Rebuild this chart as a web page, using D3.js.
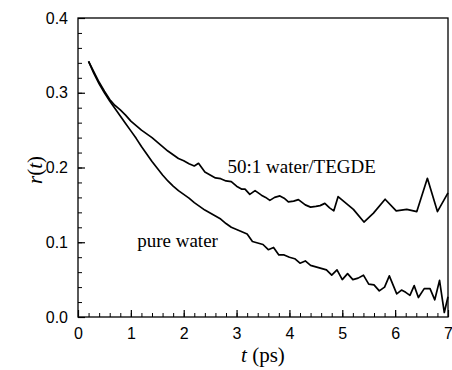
<!DOCTYPE html>
<html><head><meta charset="utf-8">
<script src="https://cdn.jsdelivr.net/npm/d3@7"></script>
<style>body{margin:0;background:#fff}svg{display:block}</style>
</head><body><svg id="c" width="452" height="370"></svg>
<script>
const pureT = [0.2,0.3,0.4,0.5,0.6,0.7,0.8,0.9,1.0,1.1,1.2,1.3,1.4,1.5,1.6,1.7,1.8,1.9,2.0,2.1,2.2,2.3,2.4,2.5,2.6,2.7,2.8,2.9,3.0,3.1,3.2,3.3,3.4,3.5,3.6,3.7,3.8,3.9,4.0,4.1,4.2,4.3,4.4,4.5,4.6,4.7,4.8,4.9,5.0,5.1,5.2,5.3,5.4,5.5,5.6,5.7,5.8,5.89,6.03,6.12,6.2,6.28,6.36,6.44,6.55,6.66,6.75,6.84,6.93,7.0];
const pureR = [0.342,0.326,0.312,0.300,0.289,0.279,0.269,0.259,0.249,0.239,0.228,0.218,0.208,0.199,0.190,0.182,0.175,0.169,0.164,0.159,0.153,0.148,0.143,0.139,0.135,0.131,0.125,0.120,0.117,0.114,0.111,0.101,0.099,0.097,0.090,0.093,0.083,0.083,0.080,0.078,0.072,0.075,0.069,0.067,0.065,0.063,0.056,0.063,0.050,0.058,0.050,0.052,0.056,0.044,0.043,0.035,0.040,0.055,0.031,0.036,0.033,0.029,0.042,0.026,0.038,0.038,0.023,0.049,0.006,0.027];
const tegdeT = [0.2,0.3,0.4,0.5,0.6,0.7,0.8,0.9,1.0,1.1,1.2,1.3,1.4,1.5,1.6,1.7,1.8,1.9,2.0,2.1,2.2,2.28,2.4,2.5,2.6,2.7,2.8,2.9,3.0,3.1,3.16,3.25,3.35,3.47,3.55,3.63,3.72,3.82,3.9,3.98,4.08,4.17,4.3,4.4,4.5,4.58,4.67,4.76,4.84,4.92,5.21,5.41,5.59,5.81,6.02,6.22,6.41,6.61,6.8,7.0];
const tegdeR = [0.342,0.328,0.314,0.302,0.291,0.283,0.277,0.270,0.262,0.256,0.250,0.245,0.240,0.234,0.228,0.222,0.217,0.212,0.209,0.205,0.202,0.2056,0.194,0.190,0.186,0.185,0.182,0.181,0.175,0.171,0.171,0.164,0.169,0.163,0.160,0.156,0.160,0.162,0.159,0.154,0.155,0.157,0.150,0.147,0.148,0.149,0.152,0.146,0.142,0.161,0.144,0.127,0.139,0.1575,0.142,0.144,0.141,0.1855,0.141,0.166];
const xTicks = [0,1,2,3,4,5,6,7];
const yTicks = [0.0,0.1,0.2,0.3,0.4];
const yTickLabels = ["0.0","0.1","0.2","0.3","0.4"];
const labels = [{text:"50:1 water/TEGDE", t:2.83, r:0.192},{text:"pure water", t:1.12, r:0.094}];

const L=78,R=448,T=18,B=317;
const svg=d3.select("#c");
const x=d3.scaleLinear().domain([0,7]).range([L,R]);
const y=d3.scaleLinear().domain([0,0.4]).range([B,T]);

const xMinor=d3.range(0,7.001,0.2).map(v=>+v.toFixed(2));
const yMinor=d3.range(0,0.4001,0.02).map(v=>+v.toFixed(3));
svg.append("g").attr("transform",`translate(0,${B})`)
  .call(d3.axisBottom(x).tickValues(xMinor).tickSize(-4).tickFormat(""))
  .call(a=>a.select(".domain").remove()).selectAll("line").attr("stroke","#000").attr("stroke-width",1);
svg.append("g").attr("transform",`translate(${L},0)`)
  .call(d3.axisLeft(y).tickValues(yMinor).tickSize(-4).tickFormat(""))
  .call(a=>a.select(".domain").remove()).selectAll("line").attr("stroke","#000").attr("stroke-width",1);
const xa=svg.append("g").attr("transform",`translate(0,${B})`)
  .call(d3.axisBottom(x).tickValues(xTicks).tickSize(-7).tickPadding(11).tickFormat(d3.format("d")));
xa.select(".domain").remove();
xa.selectAll("line").attr("stroke","#000").attr("stroke-width",1.2);
xa.selectAll("text").attr("font-family","Liberation Sans, Arial, sans-serif").attr("font-size",16).attr("fill","#000");
const ya=svg.append("g").attr("transform",`translate(${L},0)`)
  .call(d3.axisLeft(y).tickValues(yTicks).tickSize(-7).tickPadding(10).tickFormat((d,i)=>yTickLabels[i]));
ya.select(".domain").remove();
ya.selectAll("line").attr("stroke","#000").attr("stroke-width",1.2);
ya.selectAll("text").attr("font-family","Liberation Sans, Arial, sans-serif").attr("font-size",16).attr("fill","#000");

svg.append("rect").attr("x",L).attr("y",T).attr("width",R-L).attr("height",B-T)
  .attr("fill","none").attr("stroke","#000").attr("stroke-width",1.3);

const line=d3.line().x(d=>x(d[0])).y(d=>y(d[1]));
svg.append("path").datum(pureT.map((t,i)=>[t,pureR[i]])).attr("d",line)
  .attr("fill","none").attr("stroke","#000").attr("stroke-width",1.7).attr("stroke-linejoin","round");
svg.append("path").datum(tegdeT.map((t,i)=>[t,tegdeR[i]])).attr("d",line)
  .attr("fill","none").attr("stroke","#000").attr("stroke-width",1.7).attr("stroke-linejoin","round");

svg.selectAll("text.ann").data(labels).enter().append("text").attr("class","ann")
  .attr("x",d=>x(d.t)).attr("y",d=>y(d.r)).text(d=>d.text)
  .attr("font-family","Liberation Serif, Times New Roman, serif").attr("font-size",19).attr("fill","#000");

const xt=svg.append("text").attr("x",263).attr("y",362).attr("text-anchor","middle")
  .attr("font-family","Liberation Serif, Times New Roman, serif").attr("font-size",21).attr("fill","#000");
xt.append("tspan").attr("font-style","italic").text("t");
xt.append("tspan").text(" (ps)");
const yt=svg.append("text").attr("transform","translate(42,170) rotate(-90)").attr("text-anchor","middle")
  .attr("font-family","Liberation Serif, Times New Roman, serif").attr("font-size",21).attr("fill","#000");
yt.append("tspan").attr("font-style","italic").text("r");
yt.append("tspan").text("(");
yt.append("tspan").attr("font-style","italic").text("t");
yt.append("tspan").text(")");
</script></body></html>
